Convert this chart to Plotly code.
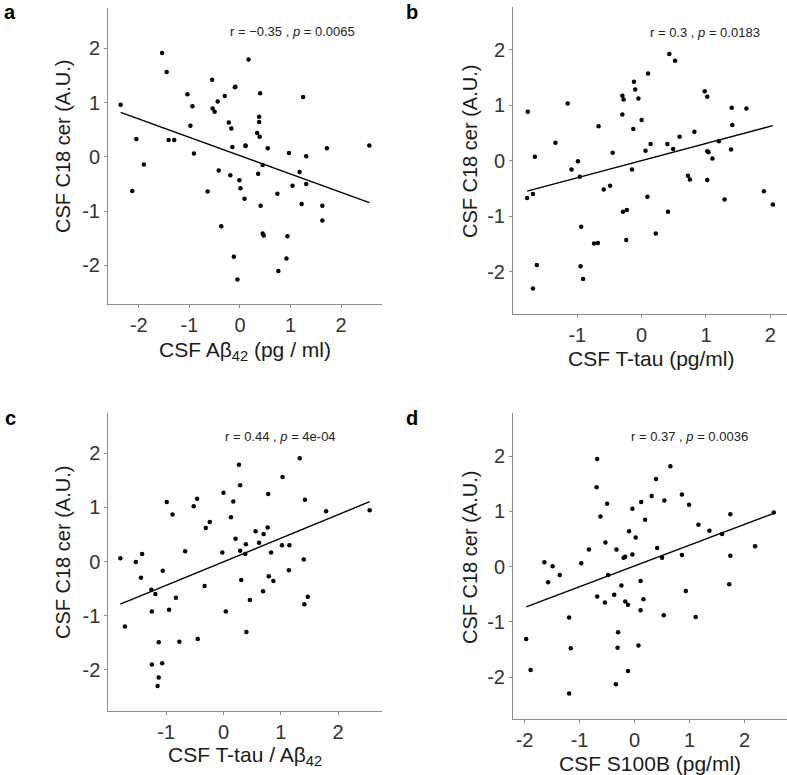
import numpy as np
import plotly.graph_objects as go

# ---------------- data ----------------
# Panel a: CSF Abeta42 vs CSF C18 cer
a_x = [-2.36, -1.54, -1.45, -2.05, -1.90, -2.13, -1.41, -1.30, -1.04, -0.94,
       -0.98, -0.91, -0.55, -0.54, -0.50, -0.44, -0.30, -0.10, -0.09, 0.17,
       0.40, -0.22, -0.17, -0.15, 0.11, 0.11, 0.55, 0.38, 0.38, 0.34,
       0.39, 1.25, 0.97, 1.31, 1.72, 2.56, 0.45, -0.42, -0.19, -0.01,
       0.01, 0.09, 0.36, -0.64, 0.41, 0.74, 1.04, 1.18, 1.31, 1.22,
       1.63, 1.63, -0.37, 0.45, 0.47, 0.94, -0.12, 0.92, -0.05, 0.76]
a_y = [0.96, 1.91, 1.56, 0.33, -0.14, -0.63, 0.31, 0.31, 1.15, 0.93,
       0.57, 0.06, 1.42, 0.89, 0.83, 1.02, 1.12, 1.28, 1.29, 1.79,
       1.17, 0.63, 0.52, 0.18, 0.21, 0.20, 0.16, 0.74, 0.64, 0.44,
       0.37, 1.10, 0.07, 0.01, 0.16, 0.21, -0.15, -0.25, -0.34, -0.43,
       -0.58, -0.77, -0.31, -0.64, -0.90, -0.68, -0.53, -0.28, -0.50, -0.87,
       -0.90, -1.17, -1.28, -1.41, -1.45, -1.46, -1.84, -1.87, -2.26, -2.10]

# Panel b: CSF T-tau vs CSF C18 cer
b_x = [-1.77, -1.78, -1.69, -1.66, -1.63, -1.69, -1.34, -1.15, -1.09, -0.99,
       -0.96, -0.94, -0.95, -0.91, -0.67, -0.74, -0.68, -0.59, -0.49, -0.45,
       -0.30, -0.28, -0.30, -0.29, -0.23, -0.24, -0.15, -0.13, -0.12, -0.10,
       -0.05, 0.00, 0.10, 0.06, 0.14, 0.09, 0.22, 0.43, 0.52, 0.40,
       0.49, 0.41, 0.59, 0.72, 0.75, 0.82, 0.98, 1.02, 1.02, 1.04,
       1.02, 1.10, 1.20, 1.29, 1.40, 1.41, 1.39, 1.63, 1.90, 2.04]
b_y = [0.88, -0.67, -0.60, 0.07, -1.88, -2.30, 0.32, 1.03, -0.16, -0.01,
       -0.29, -1.19, -1.90, -2.13, 0.62, -1.49, -1.48, -0.52, -0.45, 0.14,
       1.17, 1.10, 0.83, -0.92, -0.89, -1.43, -0.16, 0.57, 1.42, 1.28,
       1.12, 0.73, 1.57, 0.18, 0.30, -0.65, -1.31, 1.92, 1.80, 0.30,
       0.21, -0.92, 0.43, -0.27, -0.34, 0.52, 1.25, 1.15, 0.17, 0.15,
       -0.35, 0.04, 0.35, -0.70, 0.95, 0.64, 0.20, 0.94, -0.55, -0.79]

# Panel c: CSF T-tau/Abeta42 vs CSF C18 cer
c_x = [-1.80, -1.72, -1.53, -1.44, -1.42, -1.26, -1.19, -1.25, -1.06, -0.99,
       -0.89, -0.95, -0.83, -1.13, -0.77, -1.25, -1.07, -1.13, -1.15, -0.67,
       -0.52, -0.46, -0.45, -0.33, -0.31, -0.24, -0.02, 0.00, 0.04, 0.13,
       0.17, 0.21, 0.27, 0.29, 0.29, 0.31, 0.38, 0.39, 0.46, 0.40,
       0.56, 0.62, 0.69, 0.70, 0.77, 0.78, 0.79, 0.83, 0.87, 1.03,
       1.02, 1.15, 1.14, 1.33, 1.42, 1.40, 1.41, 1.47, 1.79, 2.55]
c_y = [0.06, -1.20, -0.01, -0.30, 0.14, -0.52, -0.60, -0.92, -0.17, 1.10,
       0.87, -0.89, -0.67, -1.49, -1.48, -1.90, -1.88, -2.14, -2.30, 0.19,
       1.02, 1.16, -1.43, -0.45, 0.62, 0.73, 0.17, 1.27, -0.92, 0.82,
       1.11, 0.42, 1.79, 1.41, 0.20, -0.34, 0.14, 0.32, -0.71, -1.30,
       0.56, 0.35, -0.55, 0.51, 0.63, 1.25, -0.27, 0.17, -0.36, 1.56,
       0.30, 0.30, -0.16, 1.91, 1.14, 0.04, -0.79, -0.65, 0.93, 0.95]

# Panel d: CSF S100B vs CSF C18 cer
d_x = [-1.97, -1.89, -1.64, -1.57, -1.49, -1.36, -1.19, -1.16, -1.19, -0.97,
       -0.83, -0.68, -0.69, -0.62, -0.50, -0.53, -0.48, -0.68, -0.54, -0.33,
       -0.37, -0.30, -0.31, -0.34, -0.24, -0.20, -0.17, -0.17, -0.12, -0.12,
       -0.10, -0.04, -0.04, 0.02, 0.12, 0.11, 0.16, 0.11, 0.07, 0.19,
       0.31, 0.39, 0.41, 0.50, 0.54, 0.53, 0.65, 0.86, 0.86, 0.93,
       0.99, 1.11, 1.16, 1.36, 1.59, 1.74, 1.74, 1.72, 2.19, 2.53]
d_y = [-1.31, -1.87, 0.08, -0.28, 0.01, -0.15, -0.92, -1.48, -2.30, 0.06,
       0.31, 1.95, 1.44, 0.91, 1.14, 0.44, -0.15, -0.54, -0.65, 0.31,
       -0.51, -1.19, -1.47, -2.13, -0.34, 0.16, 0.18, -0.63, -0.69, -1.89,
       0.64, 1.05, 0.22, 0.53, 1.17, -0.26, -0.59, -0.79, -1.43, 0.85,
       1.28, 1.59, 0.34, 0.16, 1.20, -0.88, 1.82, 1.31, 0.21, -0.44,
       1.12, -0.91, 0.76, 0.65, 0.59, 0.95, 0.20, -0.32, 0.37, 0.98]

stat_texts = ["r = −0.35 , <i>p</i> = 0.0065",
              "r = 0.3 , <i>p</i> = 0.0183",
              "r = 0.44 , <i>p</i> = 4e-04",
              "r = 0.37 , <i>p</i> = 0.0036"]
x_titles = ["CSF Aβ<sub>42</sub> (pg / ml)",
            "CSF T-tau (pg/ml)",
            "CSF T-tau / Aβ<sub>42</sub>",
            "CSF S100B (pg/ml)"]
y_title = "CSF C18 cer (A.U.)"
panel_labels = ["a", "b", "c", "d"]

# ---------------- layout geometry ----------------
W, H = 787, 775
FONT = "Liberation Sans, Arial, Helvetica, sans-serif"

def px(x):
    return x / W

def py(y):
    return 1 - y / H

# pixel boxes: (left, right, top, bottom)
boxes = [(108, 382, 8, 303.5),
         (513, 787, 7.3, 314),
         (108.3, 381.7, 412.7, 711),
         (513, 787, 412.7, 719)]
xranges = [[-2.61, 2.81], [-2.0, 2.26], [-2.01, 2.76], [-2.21, 2.77]]
yranges = [[-2.70, 2.74], [-2.76, 2.76], [-2.76, 2.75], [-2.76, 2.79]]
xticks = [[-2, -1, 0, 1, 2], [-1, 0, 1, 2], [-1, 0, 1, 2], [-2, -1, 0, 1, 2]]
yticks = [-2, -1, 0, 1, 2]
stat_pos = [(1.04, 2.30), (0.98, 2.31), (1.0, 2.31), (1.0, 2.36)]
xtitle_x = [245, 651, 245, 650]
xtitle_y = [351, 358, 756, 763]
ytitle_x = [63, 470, 63, 470]
ytitle_y = [147, 151, 553, 557]
label_pos = [(10, 12), (412, 12), (10, 418), (412, 418)]

data = [(a_x, a_y), (b_x, b_y), (c_x, c_y), (d_x, d_y)]

fig = go.Figure()
layout = dict(width=W, height=H, margin=dict(l=0, r=0, t=0, b=0),
              paper_bgcolor="white", plot_bgcolor="white", showlegend=False)
annotations = []

for i, ((xs, ys), box) in enumerate(zip(data, boxes)):
    k = "" if i == 0 else str(i + 1)
    xa, ya = "x" + k, "y" + k
    xs_arr = np.array(xs)
    ys_arr = np.array(ys)
    fig.add_trace(go.Scatter(x=xs, y=ys, mode="markers", xaxis=xa, yaxis=ya,
                             marker=dict(color="black", size=4.5),
                             hoverinfo="skip", cliponaxis=False))
    slope, icpt = np.polyfit(xs_arr, ys_arr, 1)
    lx = np.array([xs_arr.min(), xs_arr.max()])
    fig.add_trace(go.Scatter(x=lx, y=slope * lx + icpt, mode="lines",
                             xaxis=xa, yaxis=ya,
                             line=dict(color="black", width=1.4),
                             hoverinfo="skip"))
    l, r, t, b = box
    common = dict(showgrid=False, zeroline=False, showline=True,
                  linecolor="#8c8c8c", linewidth=1, ticks="outside",
                  ticklen=3, tickcolor="#8c8c8c", tickwidth=1,
                  tickfont=dict(family=FONT, size=20, color="#333333"))
    layout["xaxis" + k] = dict(domain=[px(l), px(r)], range=xranges[i],
                               anchor=ya, tickvals=xticks[i],
                               ticktext=[str(v) for v in xticks[i]],
                               **common)
    layout["yaxis" + k] = dict(domain=[py(b), py(t)], range=yranges[i],
                               anchor=xa, tickvals=yticks,
                               ticktext=[str(v) for v in yticks],
                               **common)
    sx, sy = stat_pos[i]
    annotations.append(dict(x=sx, y=sy, xref=xa, yref=ya, text=stat_texts[i],
                            showarrow=False, xanchor="center", yanchor="middle",
                            font=dict(family=FONT, size=13, color="#222222")))
    annotations.append(dict(x=px(xtitle_x[i]),
                            y=py(xtitle_y[i]), xref="paper", yref="paper",
                            text=x_titles[i], showarrow=False,
                            xanchor="center", yanchor="middle",
                            font=dict(family=FONT, size=21, color="#1a1a1a")))
    annotations.append(dict(x=px(ytitle_x[i]), y=py(ytitle_y[i]),
                            xref="paper", yref="paper", text=y_title,
                            textangle=-90, showarrow=False,
                            xanchor="center", yanchor="middle",
                            font=dict(family=FONT, size=20, color="#1a1a1a")))
    lx_, ly_ = label_pos[i]
    annotations.append(dict(x=px(lx_), y=py(ly_), xref="paper", yref="paper",
                            text="<b>" + panel_labels[i] + "</b>",
                            showarrow=False, xanchor="center", yanchor="middle",
                            font=dict(family=FONT, size=20, color="black")))

layout["annotations"] = annotations
fig.update_layout(**layout)
fig.write_html("out.html",
               config={"displayModeBar": False},
               post_script="document.body.style.margin='0';"
                           "document.body.style.padding='0';"
                           "document.body.style.overflow='hidden';")
